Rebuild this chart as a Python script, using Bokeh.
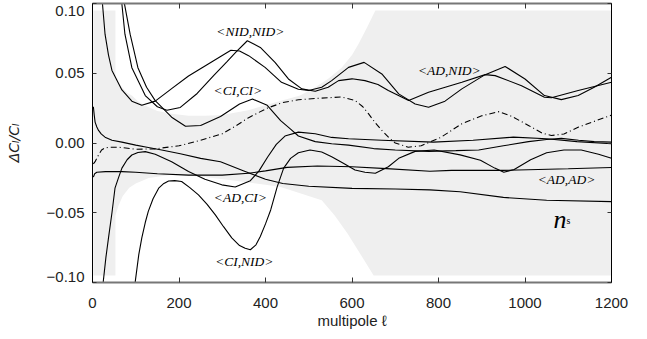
from bokeh.plotting import figure
from bokeh.models import Range1d, LinearAxis, FixedTicker
from bokeh.core.properties import value
from bokeh.embed import file_html
from bokeh.resources import INLINE

# ---------------- data ----------------
# shaded band
band_up_ell = [2, 53, 53, 60, 68, 80, 91, 105, 120, 150, 183, 222, 260, 300, 360, 400, 438, 480, 515, 545, 576, 600, 615, 635, 654, 1200]
band_up_val = [0.095, 0.095, 0.047, 0.043, 0.040, 0.036, 0.034, 0.030, 0.027, 0.023, 0.021, 0.0195, 0.0195, 0.020, 0.0235, 0.027, 0.0304, 0.034, 0.040, 0.046, 0.054, 0.063, 0.071, 0.083, 0.095, 0.095]
band_lo_ell = [2, 53, 53, 60, 70, 85, 100, 130, 180, 250, 330, 400, 435, 480, 530, 560, 590, 620, 650, 1200]
band_lo_val = [-0.095, -0.095, -0.052, -0.045, -0.038, -0.032, -0.029, -0.025, -0.023, -0.024, -0.027, -0.030, -0.0315, -0.036, -0.041, -0.052, -0.065, -0.080, -0.095, -0.095]

ad_nid_ell = [18, 23, 29, 37, 45, 68, 91, 114, 145, 183, 222, 261, 299, 320, 340, 361, 399, 437, 476, 500, 530, 553, 592, 628, 669, 708, 746, 777, 815, 854, 908, 954, 1000, 1045, 1084, 1123, 1160, 1200]
ad_nid_val = [0.125, 0.100, 0.078, 0.063, 0.052, 0.038, 0.030, 0.027, 0.030, 0.039, 0.048, 0.0554, 0.0626, 0.0665, 0.066, 0.0626, 0.0542, 0.0435, 0.0385, 0.0376, 0.040, 0.0447, 0.0542, 0.0578, 0.0495, 0.0352, 0.028, 0.0256, 0.030, 0.0388, 0.049, 0.0549, 0.0459, 0.034, 0.0311, 0.034, 0.040, 0.0471]

nid_nid_ell = [63, 68, 75, 91, 122, 150, 172, 203, 242, 280, 310, 331, 358, 388, 422, 453, 484, 515, 545, 569, 600, 630, 660, 684, 731, 777, 854, 908, 931, 992, 1045, 1061, 1123, 1200]
nid_nid_val = [0.12, 0.0995, 0.078, 0.054, 0.034, 0.026, 0.0235, 0.0255, 0.0355, 0.0483, 0.058, 0.065, 0.0733, 0.0685, 0.0578, 0.0459, 0.0388, 0.0371, 0.040, 0.0447, 0.046, 0.0447, 0.042, 0.0376, 0.0304, 0.0364, 0.0435, 0.049, 0.0483, 0.0411, 0.0328, 0.0324, 0.0376, 0.0435]

ci_ci_ell = [68, 74, 87, 105, 125, 145, 183, 215, 250, 296, 340, 370, 404, 435, 458, 476, 515, 553, 592, 650, 700, 777, 840, 893, 950, 1008, 1050, 1084, 1124, 1160, 1200]
ci_ci_val = [0.125, 0.0995, 0.078, 0.054, 0.040, 0.0304, 0.0185, 0.012, 0.0125, 0.019, 0.028, 0.0315, 0.027, 0.016, 0.010, 0.005, 0.001, -0.0005, -0.0015, -0.004, -0.005, -0.006, -0.0055, -0.005, -0.002, 0.001, 0.0025, 0.0033, 0.002, 0.001, 0.0006]

ad_ci_ell = [23, 25, 31, 37, 45, 52, 60, 68, 80, 91, 105, 122, 145, 183, 222, 260, 299, 330, 365, 385, 405, 425, 445, 476, 515, 553, 592, 669, 788, 880, 973, 1050, 1120, 1200]
ad_ci_val = [-0.12, -0.099, -0.082, -0.068, -0.050, -0.0324, -0.025, -0.018, -0.012, -0.0086, -0.0068, -0.0062, -0.008, -0.0134, -0.0205, -0.026, -0.030, -0.0315, -0.027, -0.020, -0.010, -0.001, 0.005, 0.0078, 0.0066, 0.004, 0.003, 0.002, 0.0006, 0.002, 0.0042, 0.003, 0.001, -0.0005]

ci_nid_ell = [95, 99, 107, 114, 122, 129, 140, 153, 165, 176, 190, 206, 225, 245, 265, 284, 303, 322, 340, 353, 365, 378, 388, 400, 412, 427, 442, 458, 476, 503, 530, 553, 580, 607, 630, 654, 684, 708, 746, 790, 850, 897, 930, 951, 975, 1013, 1050, 1090, 1130, 1170, 1200]
ci_nid_val = [-0.12, -0.099, -0.08, -0.068, -0.057, -0.049, -0.040, -0.0324, -0.029, -0.0272, -0.027, -0.0276, -0.032, -0.0372, -0.044, -0.0515, -0.060, -0.068, -0.0735, -0.0755, -0.0765, -0.073, -0.067, -0.058, -0.048, -0.0315, -0.018, -0.011, -0.007, -0.005, -0.0065, -0.0098, -0.0145, -0.0193, -0.021, -0.0217, -0.017, -0.011, -0.006, -0.005, -0.0085, -0.0124, -0.018, -0.021, -0.019, -0.012, -0.007, -0.005, -0.005, -0.008, -0.011]

ns_ell = [2, 4, 6, 10, 14, 20, 29, 45, 68, 100, 126, 160, 203, 250, 296, 350, 400, 440, 500, 600, 700, 780, 850, 950, 1050, 1200]
ns_val = [0.026, 0.020, 0.015, 0.0115, 0.009, 0.0065, 0.0042, 0.002, 0.0006, -0.0015, -0.003, -0.005, -0.0077, -0.011, -0.0135, -0.020, -0.026, -0.029, -0.031, -0.0325, -0.033, -0.0336, -0.035, -0.039, -0.041, -0.042]

ad_ad_ell = [2, 5, 10, 30, 68, 100, 150, 222, 300, 361, 400, 450, 520, 600, 680, 780, 830, 950, 1100, 1200]
ad_ad_val = [-0.0245, -0.022, -0.021, -0.0205, -0.0205, -0.021, -0.022, -0.023, -0.023, -0.0217, -0.020, -0.0175, -0.0165, -0.017, -0.0184, -0.0203, -0.0196, -0.0196, -0.0185, -0.0176]

dashdot_ell = [2, 6, 14, 21, 29, 40, 60, 100, 145, 200, 250, 300, 330, 360, 404, 440, 476, 520, 576, 607, 625, 638, 655, 669, 685, 700, 730, 760, 805, 854, 900, 940, 970, 1008, 1040, 1061, 1090, 1124, 1160, 1200]
dashdot_val = [-0.015, -0.0134, -0.0086, -0.005, -0.0035, -0.003, -0.003, -0.0045, -0.0042, -0.002, 0.002, 0.0066, 0.012, 0.018, 0.025, 0.029, 0.031, 0.032, 0.033, 0.0305, 0.026, 0.021, 0.014, 0.009, 0.004, 0.0, -0.003, -0.002, 0.004, 0.0138, 0.0195, 0.0225, 0.019, 0.0126, 0.007, 0.0054, 0.0065, 0.0114, 0.0155, 0.020]

curve_labels = ["<NID,NID>", "<CI,CI>", "<AD,NID>", "<AD,CI>", "<CI,NID>", "<AD,AD>"]
curve_label_ell = [365, 336, 825, 342, 351, 1096]
curve_label_val = [0.080, 0.0375, 0.052, -0.039, -0.085, -0.0265]
ns_label_ell = 1096
ns_label_val = -0.0545

x_ticks = [0, 200, 400, 600, 800, 1000, 1200]
y_ticks = [-0.1, -0.05, 0.0, 0.05, 0.1]
# the end labels of the y axis sit just inside the frame height, as in the original
y_label_pos = [-0.0957, -0.05, 0.0, 0.05, 0.0947]
y_label_text = ["\u22120.10", "\u22120.05", "0.00", "0.05", "0.10"]

# ---------------- figure ----------------
TICK_FONT = "Liberation Sans"
p = figure(width=647, height=339, output_backend="svg", toolbar_location=None,
           x_range=Range1d(0, 1200), y_range=Range1d(-0.1, 0.1),
           min_border_left=92, min_border_right=36, min_border_top=3, min_border_bottom=57,
           x_axis_location=None, y_axis_location=None)
p.grid.visible = False
p.outline_line_color = "black"
p.outline_line_width = 1
p.background_fill_color = "white"
p.border_fill_color = "white"

# band
p.patch(band_up_ell + band_lo_ell[::-1], band_up_val + band_lo_val[::-1],
        fill_color="#efefef", line_color=None)

for ell, val in [(ad_nid_ell, ad_nid_val), (nid_nid_ell, nid_nid_val), (ci_ci_ell, ci_ci_val),
                 (ad_ci_ell, ad_ci_val), (ci_nid_ell, ci_nid_val), (ns_ell, ns_val), (ad_ad_ell, ad_ad_val)]:
    p.line(ell, val, line_color="black", line_width=1.1)
p.line(dashdot_ell, dashdot_val, line_color="black", line_width=1.1, line_dash="6 3 1 3")

p.text(x=curve_label_ell, y=curve_label_val, text=curve_labels,
       text_font=value("Liberation Serif"), text_font_style="italic", text_font_size="13.5px",
       text_align="center", text_baseline="middle", text_color="black")
p.text(x=[ns_label_ell], y=[ns_label_val], text=["n"],
       text_font=value("Liberation Serif"), text_font_style="italic", text_font_size="26px",
       text_align="right", text_baseline="alphabetic", text_color="black")
p.text(x=[ns_label_ell], y=[ns_label_val], text=["s"], x_offset=0, y_offset=1,
       text_font=value("Liberation Serif"), text_font_size="10px",
       text_align="left", text_baseline="alphabetic", text_color="black")


def bare_axis(ticks, line_color, line_width, tick_len):
    ax = LinearAxis()
    ax.ticker = FixedTicker(ticks=ticks)
    ax.major_tick_in = tick_len
    ax.major_tick_out = 0
    ax.minor_tick_line_color = None
    ax.major_tick_line_color = "#333333"
    ax.major_label_text_font_size = "1px"
    ax.major_label_text_color = None
    ax.major_label_standoff = 0
    ax.axis_line_color = line_color
    ax.axis_line_width = line_width
    return ax


bottom = LinearAxis(axis_label="multipole \u2113")
bottom.ticker = FixedTicker(ticks=x_ticks)
bottom.major_tick_in = 5
bottom.major_tick_out = 0
bottom.minor_tick_line_color = None
bottom.major_tick_line_color = "#333333"
bottom.major_label_standoff = 15
bottom.major_label_text_font = TICK_FONT
bottom.major_label_text_font_size = "15px"
bottom.major_label_text_color = "#222222"
bottom.axis_label_text_font = TICK_FONT
bottom.axis_label_text_font_size = "15px"
bottom.axis_label_text_font_style = "normal"
bottom.axis_label_text_color = "#222222"
bottom.axis_label_standoff = 1
bottom.axis_line_color = "#777777"
bottom.axis_line_width = 2
p.add_layout(bottom, "below")

p.add_layout(bare_axis(x_ticks, "#777777", 2, 5), "above")
p.add_layout(bare_axis(y_ticks, "black", 1, 4), "left")
p.add_layout(bare_axis(y_ticks, "black", 1, 4), "right")

# outer left axis: only the tick labels and the axis title
left_lab = LinearAxis(axis_label="\u0394C\u2097/C\u2097")
left_lab.ticker = FixedTicker(ticks=y_label_pos)
left_lab.major_label_overrides = {v: t for v, t in zip(y_label_pos, y_label_text)}
left_lab.major_tick_line_color = None
left_lab.minor_tick_line_color = None
left_lab.axis_line_color = None
left_lab.major_tick_in = 0
left_lab.major_tick_out = 0
left_lab.major_label_standoff = 8
left_lab.major_label_text_font = TICK_FONT
left_lab.major_label_text_font_size = "15px"
left_lab.major_label_text_color = "#222222"
left_lab.axis_label_text_font = "DejaVu Sans"
left_lab.axis_label_text_font_size = "14px"
left_lab.axis_label_text_font_style = "italic"
left_lab.axis_label_text_color = "#222222"
left_lab.axis_label_standoff = 22
p.add_layout(left_lab, "left")

open("out.html", "w").write(file_html(p, INLINE))
